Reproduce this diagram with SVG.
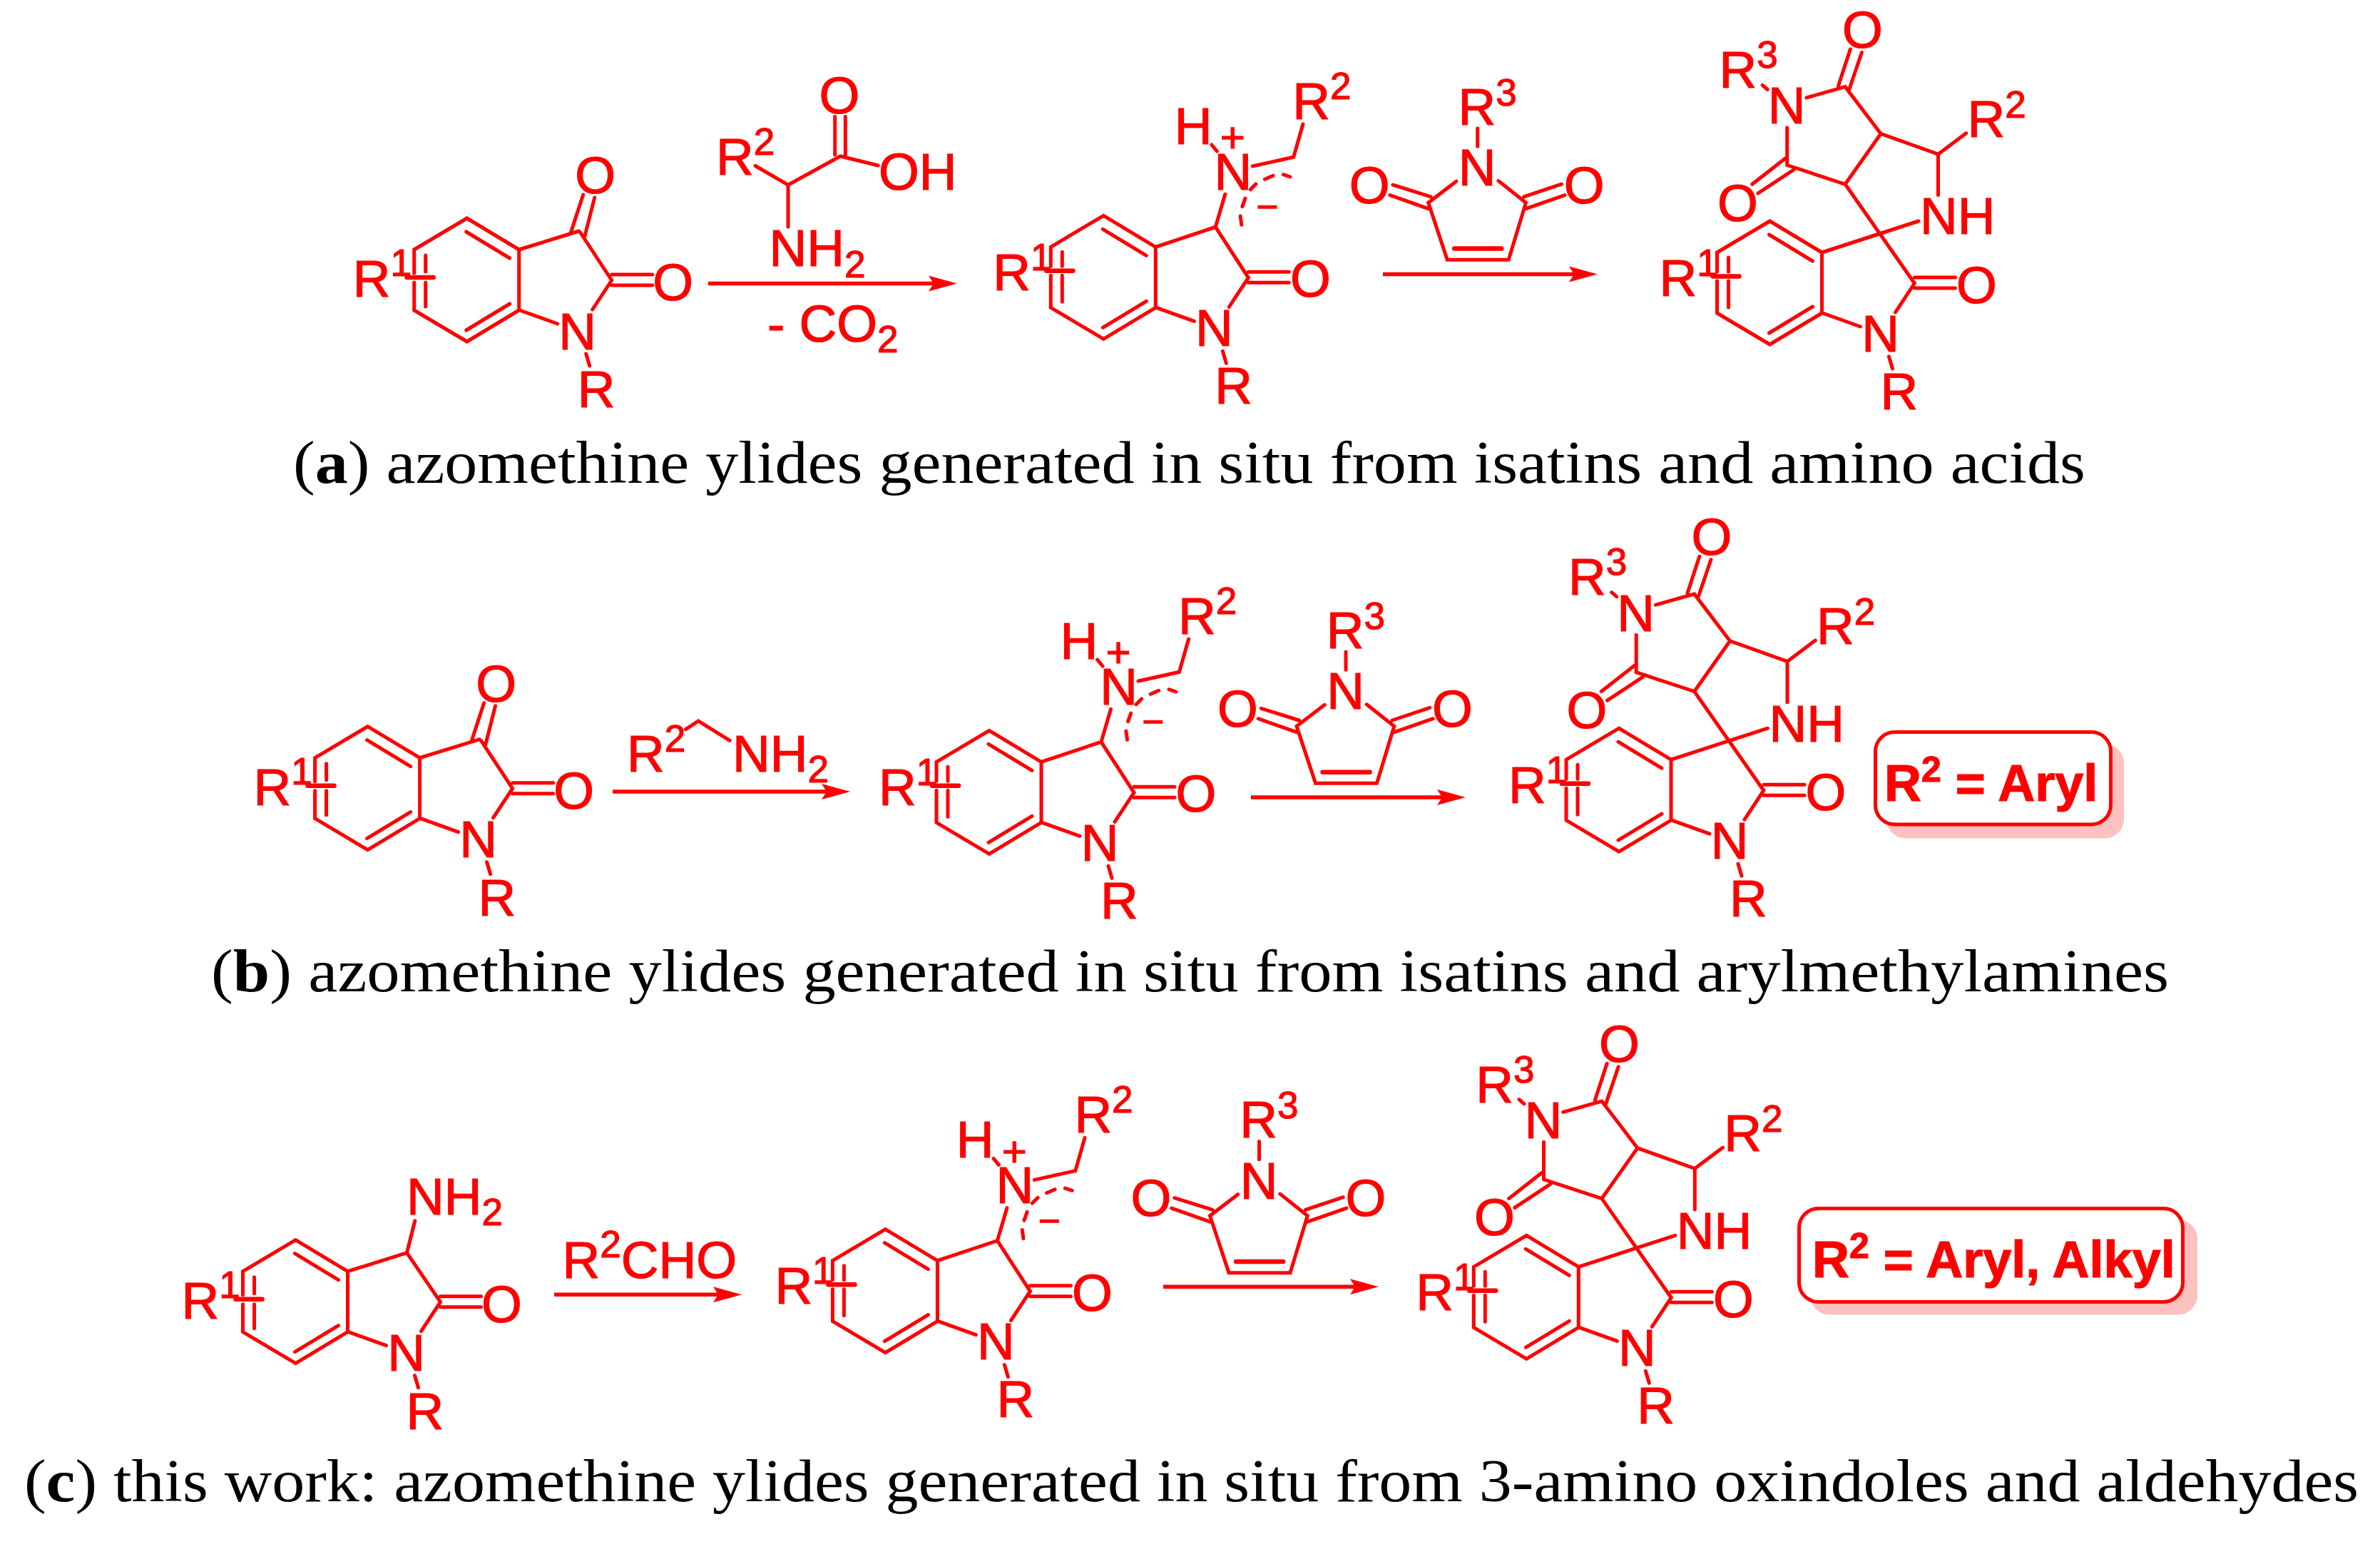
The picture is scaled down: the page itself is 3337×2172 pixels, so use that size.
<svg xmlns="http://www.w3.org/2000/svg" width="3337" height="2172" viewBox="0 0 3337 2172">
<style>
text{font-family:"Liberation Sans",Arial,sans-serif;font-size:73px;fill:#f00;stroke:#f00;stroke-width:1.2}
.m{text-anchor:middle}
.u{font-size:53px}
.b{fill:none;stroke:#f00;stroke-width:5;stroke-linecap:round;stroke-linejoin:miter}
.t{fill:none;stroke:#f00;stroke-width:6.5;stroke-linecap:round}
.a{fill:none;stroke:#f00;stroke-width:5.5;marker-end:url(#head)}
text.x{font-weight:bold;font-size:72px}
.xu{font-size:50px}
text.cap{font-family:"Liberation Serif","Times New Roman",serif;font-size:84px;fill:#000;stroke:none}
.box{fill:#fff;stroke:#f00;stroke-width:5}
.sh{fill:#ffc0c0}
</style>
<defs>
<marker id="head" markerUnits="userSpaceOnUse" markerWidth="44" markerHeight="26" refX="8" refY="12" orient="auto"><path d="M0,1 L40,12 L0,23 L7,12Z" fill="#f00"/></marker>
<path id="ox1" class="b" d="M0,33 L0,0 L74,-44 L147,0 L147,85 L74,129 L0,85 L0,46 M16,8 V31 M16,46 V80 M73,-25 L134,12 M73,113 L134,76 M277,43 L250,84 M148,85 L201,104 M241,146 L246,163 M277,35 H334 M277,50 H334"/>
<path id="ox2" class="b" d="M0,27 L0,0 L74,-44 L147,0 L147,85 L74,129 L0,85 L0,40 M16,7 V27 M16,40 V77 M73,-25 L134,12 M73,113 L134,76 M277,43 L250,84 M148,85 L201,104 M241,146 L246,163 M277,35 H334 M277,50 H334"/>
<path id="bar1" class="t" d="M-10,39 H27"/>
<path id="bar2" class="t" d="M-6,33.5 H31"/>
<path id="isatin" class="b" d="M147,0 L231,-26 M233,-24 L277,43 M220,-25 L237,-77 M239,-18 L253,-73"/>
<path id="ylide" class="b" d="M147,0 L231,-28 L277,43 M231,-28 L244.5,-74 M225.6,-143.3 L233,-134.3 M283,-113.3 L340.4,-126 L353.6,-172.3 M267.5,-31 L265.8,-43.3 M268.6,-56.6 L272.7,-68.3 M280,-80.6 L287.6,-88.3 M300.2,-95 L311.7,-100 M326,-101.6 L335.8,-98.3"/>
<path id="spiro" class="b" d="M147,0 L282.5,-44 M276,42 L179.6,-95.7 L229.6,-166.5 L310,-137.8 V-80.4 M310,-137.8 L349.3,-167.2 M229.6,-166.5 L179.6,-232.3 L125.4,-217 M179.6,-95.7 L98.2,-122.5 V-175 M63.7,-234.6 L70.7,-228.5 M170,-233.5 L186.8,-285 M185,-227.7 L202.9,-280.5 M95.7,-132 L49.3,-95.7 M107.5,-116 L57.5,-83"/>
<path id="maleimide" class="b" d="M-29.3,-6 L-68.5,24 L-42,104 L44,104 L68.3,24 L29.8,-6.6 M-65,15.7 L-118.3,-1 M-68.5,32.4 L-122.3,13.4 M65.5,15.7 L118.3,-2 M68.3,32.4 L122.8,13.4 M0.5,-80.3 V-55"/>
<path id="ene" class="t" d="M-32,88.4 H34"/>
</defs>

<g id="captions">
<text class="cap" x="411" y="677" textLength="2513" lengthAdjust="spacingAndGlyphs">(<tspan font-weight="bold">a</tspan>) azomethine ylides generated in situ from isatins and amino acids</text>
<text class="cap" x="296" y="1390" textLength="2745" lengthAdjust="spacingAndGlyphs">(<tspan font-weight="bold">b</tspan>) azomethine ylides generated in situ from isatins and arylmethylamines</text>
<text class="cap" x="34" y="2105" textLength="3273" lengthAdjust="spacingAndGlyphs">(<tspan font-weight="bold">c</tspan>) this work: azomethine ylides generated in situ from 3-amino oxindoles and aldehydes</text>
</g>

<g id="connectors">
<line class="a" x1="993" y1="397.5" x2="1310" y2="397.5"/>
<line class="a" x1="1939" y1="384.6" x2="2208" y2="384.6"/>
<line class="a" x1="859" y1="1110" x2="1160" y2="1110"/>
<line class="a" x1="1754" y1="1118" x2="2023" y2="1118"/>
<line class="a" x1="777" y1="1815.3" x2="1008" y2="1815.3"/>
<line class="a" x1="1631" y1="1804.3" x2="1901" y2="1804.3"/>
</g>

<g id="isatin-a" transform="translate(580.7,350)">
<use href="#ox1"/><use href="#bar1"/><use href="#isatin"/>
<text x="-86" y="66">R<tspan class="u" dy="-29">1</tspan></text>
<text class="m" x="229" y="140">N</text><text x="229" y="221">R</text>
<text class="m" x="363" y="71">O</text><text class="m" x="254" y="-79">O</text>
</g>
<g id="amino-acid">
<path class="b" d="M1059,232.5 L1105,259.3 V318 M1105,259.3 L1178.3,219 L1231.2,232 M1170.7,163.6 V217 M1185.3,163.6 V219"/>
<text x="1004" y="244.6">R<tspan class="u" dy="-28">2</tspan></text>
<text class="m" x="1177" y="159">O</text><text x="1232" y="266.4">OH</text>
<text x="1078.6" y="372.5">NH<tspan class="u" dy="16">2</tspan></text>
</g>
<g id="minus-co2"><text x="1076" y="478.6">- CO<tspan class="u" dy="15">2</tspan></text></g>
<g id="ylide-a" transform="translate(1473.3,346.3)">
<use href="#ox2"/><use href="#bar2"/><use href="#ylide"/>
<text x="-81" y="60.5">R<tspan class="u" dy="-28">1</tspan></text>
<text class="m" x="229" y="138.5">N</text><text x="230" y="219.5">R</text>
<text class="m" x="364" y="70">O</text>
<text class="m" x="255.5" y="-80.6">N</text><text class="m" x="199.8" y="-144.3">H</text>
<text class="m" style="font-size:60px" x="254.9" y="-133">+</text>
<text class="m u" x="304" y="-38">−</text>
<text x="339" y="-179.3">R<tspan class="u" dy="-28">2</tspan></text>
</g>
<g id="maleimide-a" transform="translate(2071.2,260.2)">
<use href="#maleimide"/><use href="#ene"/>
<text class="m" x="0" y="0">N</text><text x="-26.7" y="-85.6">R<tspan class="u" dy="-27">3</tspan></text>
<text class="m" x="-151" y="24.4">O</text><text class="m" x="150" y="24.4">O</text>
</g>
<g id="product-a" transform="translate(2407.5,354)">
<use href="#ox2"/><use href="#bar2"/><use href="#spiro"/>
<text x="-81" y="60.5">R<tspan class="u" dy="-28">1</tspan></text>
<text class="m" x="229" y="138.5">N</text><text x="229" y="220">R</text>
<text class="m" x="364" y="71">O</text>
<text x="284.5" y="-25.6">NH</text>
<text x="351" y="-162">R<tspan class="u" dy="-27">2</tspan></text>
<text class="m" x="97.5" y="-180.6">N</text>
<text x="3" y="-230.8">R<tspan class="u" dy="-28">3</tspan></text>
<text class="m" x="204" y="-287.4">O</text><text class="m" x="29" y="-44">O</text>
</g>

<g id="isatin-b" transform="translate(441.6,1062.7)">
<use href="#ox1"/><use href="#bar1"/><use href="#isatin"/>
<text x="-86" y="66">R<tspan class="u" dy="-29">1</tspan></text>
<text class="m" x="229" y="139">N</text><text x="229" y="221">R</text>
<text class="m" x="363" y="71">O</text><text class="m" x="254" y="-79">O</text>
</g>
<g id="amine">
<path class="b" d="M961.4,1022.7 L979.2,1011 L1023.2,1038.3"/>
<text x="879" y="1082.3">R<tspan class="u" dy="-28">2</tspan></text>
<text x="1027" y="1082.3">NH<tspan class="u" dy="15">2</tspan></text>
</g>
<g id="ylide-b" transform="translate(1313,1068.3)">
<use href="#ox2"/><use href="#bar2"/><use href="#ylide"/>
<text x="-81" y="60.5">R<tspan class="u" dy="-28">1</tspan></text>
<text class="m" x="229" y="138.5">N</text><text x="230" y="219.5">R</text>
<text class="m" x="364" y="70">O</text>
<text class="m" x="255.5" y="-80.6">N</text><text class="m" x="199.8" y="-144.3">H</text>
<text class="m" style="font-size:60px" x="254.9" y="-133">+</text>
<text class="m u" x="304" y="-38">−</text>
<text x="339" y="-179.3">R<tspan class="u" dy="-28">2</tspan></text>
</g>
<g id="maleimide-b" transform="translate(1886.5,994.3)">
<use href="#maleimide"/><use href="#ene"/>
<text class="m" x="0" y="0">N</text><text x="-26.7" y="-85.6">R<tspan class="u" dy="-27">3</tspan></text>
<text class="m" x="-151" y="24.4">O</text><text class="m" x="150" y="24.4">O</text>
</g>
<g id="product-b" transform="translate(2196,1065.2)">
<use href="#ox2"/><use href="#bar2"/><use href="#spiro"/>
<text x="-81" y="60.5">R<tspan class="u" dy="-28">1</tspan></text>
<text class="m" x="229" y="138.5">N</text><text x="229" y="220">R</text>
<text class="m" x="364" y="71">O</text>
<text x="284.5" y="-25.6">NH</text>
<text x="351" y="-162">R<tspan class="u" dy="-27">2</tspan></text>
<text class="m" x="97.5" y="-180.6">N</text>
<text x="3" y="-230.8">R<tspan class="u" dy="-28">3</tspan></text>
<text class="m" x="204" y="-287.4">O</text><text class="m" x="29" y="-44">O</text>
</g>
<g id="note-b">
<rect class="sh" x="2645" y="1043" width="333" height="132.5" rx="27"/>
<rect class="box" x="2629.5" y="1026.5" width="330" height="129.5" rx="27"/>
<text class="x" x="2642" y="1122.6">R<tspan class="xu" dy="-27">2</tspan><tspan dy="27"> = Aryl</tspan></text>
</g>

<g id="oxindole-c" transform="translate(340.5,1782.7)">
<use href="#ox1"/><use href="#bar1"/>
<path class="b" d="M147,0 L230,-26 L277,43 M230,-26 L241.3,-71"/>
<text x="-86" y="66">R<tspan class="u" dy="-29">1</tspan></text>
<text class="m" x="229" y="139">N</text><text x="229" y="221">R</text>
<text class="m" x="363" y="71">O</text>
<text x="229.5" y="-79.4">NH<tspan class="u" dy="15">2</tspan></text>
</g>
<g id="aldehyde"><text x="788.6" y="1792.3">R<tspan class="u" dy="-29">2</tspan><tspan dy="29">CHO</tspan></text></g>
<g id="ylide-c" transform="translate(1167.4,1767.7)">
<use href="#ox2"/><use href="#bar2"/><use href="#ylide"/>
<text x="-81" y="60.5">R<tspan class="u" dy="-28">1</tspan></text>
<text class="m" x="229" y="138.5">N</text><text x="230" y="219.5">R</text>
<text class="m" x="364" y="70">O</text>
<text class="m" x="255.5" y="-80.6">N</text><text class="m" x="199.8" y="-144.3">H</text>
<text class="m" style="font-size:60px" x="254.9" y="-133">+</text>
<text class="m u" x="304" y="-38">−</text>
<text x="339" y="-179.3">R<tspan class="u" dy="-28">2</tspan></text>
</g>
<g id="maleimide-c" transform="translate(1765,1680.7)">
<use href="#maleimide"/><use href="#ene"/>
<text class="m" x="0" y="0">N</text><text x="-26.7" y="-85.6">R<tspan class="u" dy="-27">3</tspan></text>
<text class="m" x="-151" y="24.4">O</text><text class="m" x="150" y="24.4">O</text>
</g>
<g id="product-c" transform="translate(2066.3,1776.3)">
<use href="#ox2"/><use href="#bar2"/><use href="#spiro"/>
<text x="-81" y="60.5">R<tspan class="u" dy="-28">1</tspan></text>
<text class="m" x="229" y="138.5">N</text><text x="229" y="220">R</text>
<text class="m" x="364" y="71">O</text>
<text x="284.5" y="-25.6">NH</text>
<text x="351" y="-162">R<tspan class="u" dy="-27">2</tspan></text>
<text class="m" x="97.5" y="-180.6">N</text>
<text x="3" y="-230.8">R<tspan class="u" dy="-28">3</tspan></text>
<text class="m" x="204" y="-287.4">O</text><text class="m" x="29" y="-44">O</text>
</g>
<g id="note-c">
<rect class="sh" x="2538" y="1710" width="543" height="133.5" rx="27"/>
<rect class="box" x="2522.5" y="1694.5" width="538" height="131" rx="27"/>
<text class="x" x="2541" y="1790.5">R<tspan class="xu" dy="-27">2</tspan><tspan dy="27"> = Aryl, Alkyl</tspan></text>
</g>
</svg>
